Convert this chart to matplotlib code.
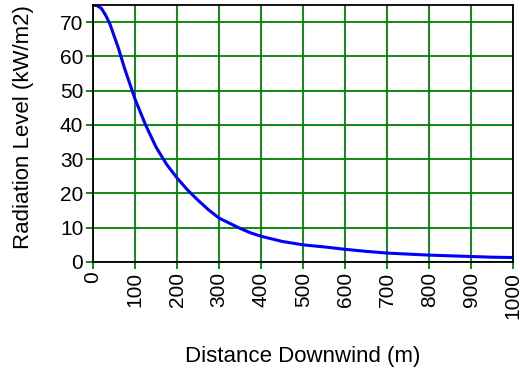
import matplotlib
matplotlib.use("Agg")
import matplotlib.pyplot as plt

# values
distance = [0, 10, 20, 30, 40, 50, 60, 75, 100, 125, 150, 175, 200, 225, 250, 275,
            300, 325, 350, 375, 400, 450, 500, 550, 600, 650, 700, 750, 800, 850,
            900, 950, 1000]
radiation = [75, 74.8, 74, 72, 69.5, 66, 62.5, 56.5, 47.5, 40, 33.5, 28.5, 24.5, 21,
             18, 15.2, 12.8, 11.3, 9.8, 8.5, 7.5, 6, 5, 4.4, 3.7, 3.1, 2.6, 2.3, 2.0,
             1.8, 1.6, 1.4, 1.3]
x_ticks = list(range(0, 1001, 100))
y_ticks = list(range(0, 71, 10))

plt.rcParams['font.family'] = ['Liberation Sans', 'DejaVu Sans']

fig = plt.figure(figsize=(5.2, 3.74), dpi=100)
ax = fig.add_axes([0.179, 0.2995, 0.808, 0.687])

ax.plot(distance, radiation, color="#0000ff", lw=2.2, zorder=3)

ax.set_xlim(0, 1000)
ax.set_ylim(0, 75)
ax.set_xticks(x_ticks)
ax.set_yticks(y_ticks)
ax.grid(True, color="#008000", lw=1.3)
ax.tick_params(axis="both", colors="#008000", width=1.3, length=5, labelsize=15,
               labelcolor="black", pad=2)
ax.tick_params(axis="x", labelrotation=90)

for s in ax.spines.values():
    s.set_color("black")
    s.set_linewidth(1.3)
    s.set_zorder(4)

ax.set_xlabel("Distance Downwind (m)", fontsize=16, labelpad=20)
ax.set_ylabel("Radiation Level (kW/m2)", fontsize=16)
ax.yaxis.set_label_coords(-0.14, 0.525)

fig.savefig("out.png", dpi=100)
